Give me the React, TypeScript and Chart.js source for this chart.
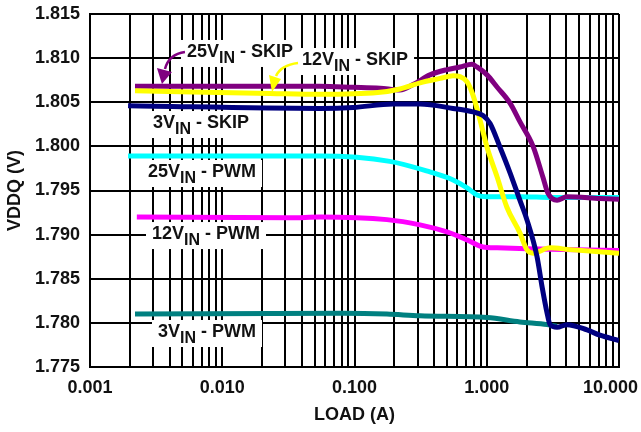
import React, { useEffect, useRef } from "react";
import { Chart, registerables } from "chart.js";

Chart.register(...registerables);

const FONT = "'Liberation Sans', Arial, Helvetica, sans-serif";

// ---- axis ticks ----
const xDecadeTicks = [0.001, 0.01, 0.1, 1, 10];
const xDecadeLabels = ["0.001", "0.010", "0.100", "1.000", "10.000"];
const yTickValues = [1.775, 1.78, 1.785, 1.79, 1.795, 1.8, 1.805, 1.81, 1.815];
const yTickLabels = ["1.775", "1.780", "1.785", "1.790", "1.795", "1.800", "1.805", "1.810", "1.815"];

// ---- series (LOAD in A, VDDQ in V) ----
const load25Skip = [0.00219, 0.0548, 0.0975, 0.156, 0.221, 0.277, 0.372, 0.5, 0.628, 0.773, 0.843, 1.005, 1.2, 1.5, 1.78, 2.24, 2.66, 2.9, 3.4, 4.04, 7.18, 10];
const vout25Skip = [1.8068, 1.8068, 1.8067, 1.8066, 1.8064, 1.807, 1.8081, 1.8087, 1.809, 1.8093, 1.809, 1.8081, 1.8067, 1.8049, 1.8028, 1.8, 1.7965, 1.7947, 1.7939, 1.7943, 1.7941, 1.794];

const load12Skip = [0.00219, 0.023, 0.0548, 0.15, 0.221, 0.313, 0.444, 0.556, 0.628, 0.71, 0.787, 0.889, 1.005, 1.2, 1.42, 1.78, 2.01, 2.24, 3.01, 4.26, 10];
const vout12Skip = [1.8063, 1.806, 1.8059, 1.8061, 1.8065, 1.8072, 1.8077, 1.808, 1.8079, 1.8073, 1.8058, 1.803, 1.7999, 1.7965, 1.7931, 1.7902, 1.7883, 1.7879, 1.7885, 1.7883, 1.7879];

const load3Skip = [0.00194, 0.0548, 0.0975, 0.195, 0.313, 0.556, 0.787, 0.937, 1.06, 1.26, 1.5, 1.78, 2.01, 2.4, 2.62, 2.86, 3.01, 3.4, 4.04, 5.73, 7.18, 10];
const vout3Skip = [1.8046, 1.8043, 1.8044, 1.8048, 1.8048, 1.8043, 1.8039, 1.8035, 1.8026, 1.7999, 1.797, 1.7939, 1.7917, 1.7875, 1.7841, 1.7811, 1.7798, 1.7795, 1.7798, 1.7792, 1.7786, 1.778];

const load25Pwm = [0.00194, 0.0183, 0.0548, 0.185, 0.372, 0.556, 0.71, 0.843, 1.005, 1.78, 3.17, 10];
const vout25Pwm = [1.7989, 1.7989, 1.7989, 1.7983, 1.7971, 1.7962, 1.7953, 1.7945, 1.7943, 1.7943, 1.7942, 1.7942];

const load12Pwm = [0.00226, 0.0325, 0.0548, 0.176, 0.313, 0.5, 0.71, 0.937, 1.2, 2.01, 10];
const vout12Pwm = [1.792, 1.7919, 1.792, 1.7917, 1.7911, 1.7903, 1.7894, 1.7886, 1.7885, 1.7884, 1.7882];

const load3Pwm = [0.00219, 0.0818, 0.176, 0.313, 1.005, 1.78, 2.86, 3.4];
const vout3Pwm = [1.781, 1.7811, 1.781, 1.7808, 1.7806, 1.7801, 1.7798, 1.7796];

// ---- in-plot labels (anchored in data coordinates) ----
const labelMain = ["25V", "12V", "3V", "25V", "12V", "3V"];
const labelSub = ["IN", "IN", "IN", "IN", "IN", "IN"];
const labelRest = [" - SKIP", " - SKIP", " - SKIP", " - PWM", " - PWM", " - PWM"];
const labelLoad = [0.00541, 0.0401, 0.002995, 0.002746, 0.002943, 0.003267];
const labelVolt = [1.81013, 1.80922, 1.80208, 1.79653, 1.7895, 1.7784];

const pair = (xs: number[], ys: number[]) => xs.map((x, i) => ({ x, y: ys[i] }));

type P = [number, number];
const arrows: { label: number; color: string; start: P; ctrl: P; end: P; b1: P; b2: P; tip: P }[] = [
  { label: 0, color: "#800080", start: [-2, -5], ctrl: [-18, -3], end: [-22, 12], b1: [-30, 11], b2: [-15, 15], tip: [-25, 27] },
  { label: 1, color: "#FFFF00", start: [-4, -2], ctrl: [-21, 0], end: [-26, 11], b1: [-33, 10], b2: [-21, 14], tip: [-30, 27] },
];

const overlayPlugin = {
  id: "overlay",
  beforeDatasetsDraw(chart: any) {
    const { ctx, scales } = chart;
    const xs = scales.x, ys = scales.y;
    ctx.save();
    for (let i = 0; i < labelMain.length; i++) {
      const px = xs.getPixelForValue(labelLoad[i]);
      const py = ys.getPixelForValue(labelVolt[i]);
      ctx.font = `bold 18px ${FONT}`;
      const w1 = ctx.measureText(labelMain[i]).width;
      const w3 = ctx.measureText(labelRest[i]).width;
      ctx.font = `bold 16px ${FONT}`;
      const w2 = ctx.measureText(labelSub[i]).width;
      const total = w1 + w2 + w3;
      ctx.fillStyle = "#ffffff";
      ctx.fillRect(px - 6, py - 17, total + 12, 27);
      ctx.fillStyle = "#111111";
      ctx.textBaseline = "alphabetic";
      ctx.textAlign = "left";
      ctx.font = `bold 18px ${FONT}`;
      ctx.fillText(labelMain[i], px, py);
      ctx.font = `bold 16px ${FONT}`;
      ctx.fillText(labelSub[i], px + w1, py + 6);
      ctx.font = `bold 18px ${FONT}`;
      ctx.fillText(labelRest[i], px + w1 + w2, py);
    }
    ctx.restore();
  },
  afterDatasetsDraw(chart: any) {
    const { ctx, scales } = chart;
    const xs = scales.x, ys = scales.y;
    ctx.save();
    for (const a of arrows) {
      const ox = xs.getPixelForValue(labelLoad[a.label]);
      const oy = ys.getPixelForValue(labelVolt[a.label]);
      ctx.strokeStyle = a.color;
      ctx.fillStyle = a.color;
      ctx.lineWidth = 2.5;
      ctx.beginPath();
      ctx.moveTo(ox + a.start[0], oy + a.start[1]);
      ctx.quadraticCurveTo(ox + a.ctrl[0], oy + a.ctrl[1], ox + a.end[0], oy + a.end[1]);
      ctx.stroke();
      ctx.beginPath();
      ctx.moveTo(ox + a.b1[0], oy + a.b1[1]);
      ctx.lineTo(ox + a.b2[0], oy + a.b2[1]);
      ctx.lineTo(ox + a.tip[0], oy + a.tip[1]);
      ctx.closePath();
      ctx.fill();
    }
    ctx.restore();
  },
  afterDraw(chart: any) {
    // last x tick label kept inside the canvas
    const { ctx, scales } = chart;
    const xs = scales.x;
    ctx.save();
    ctx.font = `bold 18px ${FONT}`;
    ctx.fillStyle = "#111111";
    ctx.textAlign = "right";
    ctx.textBaseline = "middle";
    ctx.fillText(xDecadeLabels[xDecadeLabels.length - 1], chart.width - 3, xs.top + 10 + 10.8);
    ctx.restore();
  },
};

export default function App() {
  const ref = useRef<HTMLCanvasElement | null>(null);

  useEffect(() => {
    if (!ref.current) return;
    const common = { fill: false, pointRadius: 0, borderWidth: 5, cubicInterpolationMode: "monotone" as const, borderCapStyle: "butt" as const };
    const chart = new Chart(ref.current, {
      type: "line",
      data: {
        datasets: [
          { ...common, label: "3VIN - SKIP", data: pair(load3Skip, vout3Skip), borderColor: "#000080" },
          { ...common, label: "12VIN - SKIP", data: pair(load12Skip, vout12Skip), borderColor: "#FFFF00" },
          { ...common, label: "25VIN - SKIP", data: pair(load25Skip, vout25Skip), borderColor: "#800080" },
          { ...common, label: "25VIN - PWM", data: pair(load25Pwm, vout25Pwm), borderColor: "#00FFFF" },
          { ...common, label: "12VIN - PWM", data: pair(load12Pwm, vout12Pwm), borderColor: "#FF00FF" },
          { ...common, label: "3VIN - PWM", data: pair(load3Pwm, vout3Pwm), borderColor: "#008080" },
        ],
      },
      options: {
        responsive: false,
        animation: false,
        parsing: false as any,
        layout: { padding: { top: 14, right: 22, bottom: 0, left: 0 } },
        plugins: { legend: { display: false }, tooltip: { enabled: false } },
        scales: {
          x: {
            type: "logarithmic",
            min: 0.001,
            max: 10,
            afterBuildTicks: (scale: any) => {
              const t: { value: number }[] = [];
              for (let e = -3; e <= 0; e++) {
                for (let m = 1; m <= 9; m++) t.push({ value: m * Math.pow(10, e) });
              }
              t.push({ value: 10 });
              scale.ticks = t;
            },
            afterFit: (scale: any) => {
              scale.height = 65;
              scale.paddingLeft = 0;
              scale.paddingRight = 0;
            },
            grid: { color: "#000000", lineWidth: 2, drawTicks: false },
            border: { color: "#000000", width: 2 },
            ticks: {
              autoSkip: false,
              maxRotation: 0,
              padding: 10,
              font: { family: FONT, size: 18, weight: "bold" },
              color: (c: any) => (c.tick && Math.abs(c.tick.value - 10) < 1e-9 ? "rgba(0,0,0,0)" : "#111111"),
              callback: (v: any) => {
                const i = xDecadeTicks.findIndex((d) => Math.abs(d - Number(v)) / d < 1e-6);
                return i >= 0 ? xDecadeLabels[i] : "";
              },
            },
            title: {
              display: true,
              text: "LOAD (A)",
              color: "#111111",
              font: { family: FONT, size: 18, weight: "bold" },
              padding: { top: 0, bottom: 6 },
            },
          },
          y: {
            type: "linear",
            min: 1.775,
            max: 1.815,
            afterBuildTicks: (scale: any) => {
              scale.ticks = yTickValues.map((v) => ({ value: v }));
            },
            afterFit: (scale: any) => {
              scale.width = 90;
              scale.paddingTop = 0;
              scale.paddingBottom = 0;
            },
            grid: { color: "#000000", lineWidth: 2, drawTicks: false },
            border: { color: "#000000", width: 2 },
            ticks: {
              padding: 10,
              color: "#111111",
              font: { family: FONT, size: 18, weight: "bold" },
              callback: (v: any) => {
                const i = yTickValues.findIndex((d) => Math.abs(d - Number(v)) < 1e-7);
                return i >= 0 ? yTickLabels[i] : "";
              },
            },
            title: {
              display: true,
              text: "VDDQ (V)",
              color: "#111111",
              font: { family: FONT, size: 18, weight: "bold" },
              padding: { top: 4, bottom: 0 },
            },
          },
        },
      },
      plugins: [overlayPlugin],
    });
    return () => chart.destroy();
  }, []);

  return (
    <div style={{ position: "fixed", left: 0, top: 0, width: 641, height: 432, background: "#ffffff" }}>
      <canvas ref={ref} width={641} height={432} style={{ display: "block" }} />
    </div>
  );
}
